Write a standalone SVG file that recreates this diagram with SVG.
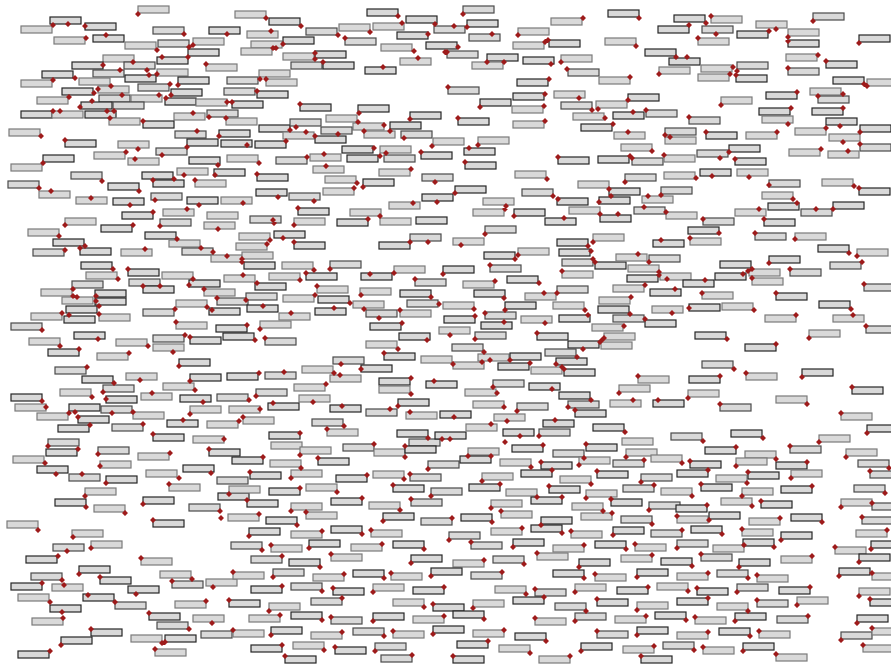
<svg xmlns="http://www.w3.org/2000/svg" width="891" height="665" viewBox="0 0 891 665">
<style>
#nodes rect{width:31px;height:7px;fill:#d9d9d9;stroke:#7a7a7a;stroke-width:1.2}
#nodes>g:nth-child(2n) rect{stroke:#262626}
#nodes>g:nth-child(5n) rect{stroke:#4a4a4a}
.dm{fill:#9e1b1b;stroke:none}
</style>
<rect x="0" y="0" style="width:891px;height:665px" fill="#ffffff"/>
<g id="nodes">
<g id="n1"><rect x="138" y="6"/></g>
<g id="n2"><rect x="50" y="17"/></g>
<g id="n3"><rect x="21" y="26"/></g>
<g id="n4"><rect x="85" y="23"/></g>
<g id="n5"><rect x="153" y="27"/></g>
<g id="n6"><rect x="209" y="27"/></g>
<g id="n7"><rect x="54" y="37"/></g>
<g id="n8"><rect x="93" y="35"/></g>
<g id="n9"><rect x="125" y="42"/></g>
<g id="n10"><rect x="158" y="40"/></g>
<g id="n11"><rect x="193" y="38"/></g>
<g id="n12"><rect x="188" y="49"/></g>
<g id="n13"><rect x="103" y="55"/></g>
<g id="n14"><rect x="72" y="62"/></g>
<g id="n15"><rect x="124" y="62"/></g>
<g id="n16"><rect x="157" y="57"/></g>
<g id="n17"><rect x="206" y="64"/></g>
<g id="n18"><rect x="42" y="71"/></g>
<g id="n19"><rect x="21" y="80"/></g>
<g id="n20"><rect x="93" y="70"/></g>
<g id="n21"><rect x="157" y="69"/></g>
<g id="n22"><rect x="125" y="75"/></g>
<g id="n23"><rect x="79" y="78"/></g>
<g id="n24"><rect x="178" y="77"/></g>
<g id="n25"><rect x="138" y="84"/></g>
<g id="n26"><rect x="62" y="88"/></g>
<g id="n27"><rect x="98" y="86"/></g>
<g id="n28"><rect x="171" y="89"/></g>
<g id="n29"><rect x="37" y="97"/></g>
<g id="n30"><rect x="99" y="95"/></g>
<g id="n31"><rect x="131" y="95"/></g>
<g id="n32"><rect x="165" y="98"/></g>
<g id="n33"><rect x="196" y="99"/></g>
<g id="n34"><rect x="81" y="102"/></g>
<g id="n35"><rect x="113" y="102"/></g>
<g id="n36"><rect x="21" y="111"/></g>
<g id="n37"><rect x="52" y="111"/></g>
<g id="n38"><rect x="85" y="111"/></g>
<g id="n39"><rect x="174" y="113"/></g>
<g id="n40"><rect x="207" y="110"/></g>
<g id="n41"><rect x="109" y="118"/></g>
<g id="n42"><rect x="143" y="121"/></g>
<g id="n43"><rect x="9" y="129"/></g>
<g id="n44"><rect x="65" y="140"/></g>
<g id="n45"><rect x="175" y="131"/></g>
<g id="n46"><rect x="219" y="130"/></g>
<g id="n47"><rect x="118" y="141"/></g>
<g id="n48"><rect x="187" y="139"/></g>
<g id="n49"><rect x="94" y="152"/></g>
<g id="n50"><rect x="156" y="148"/></g>
<g id="n51"><rect x="128" y="158"/></g>
<g id="n52"><rect x="43" y="155"/></g>
<g id="n53"><rect x="11" y="164"/></g>
<g id="n54"><rect x="189" y="157"/></g>
<g id="n55"><rect x="71" y="172"/></g>
<g id="n56"><rect x="142" y="172"/></g>
<g id="n57"><rect x="177" y="168"/></g>
<g id="n58"><rect x="153" y="180"/></g>
<g id="n59"><rect x="195" y="180"/></g>
<g id="n60"><rect x="8" y="181"/></g>
<g id="n61"><rect x="39" y="191"/></g>
<g id="n62"><rect x="108" y="183"/></g>
<g id="n63"><rect x="76" y="197"/></g>
<g id="n64"><rect x="113" y="198"/></g>
<g id="n65"><rect x="151" y="193"/></g>
<g id="n66"><rect x="187" y="197"/></g>
<g id="n67"><rect x="163" y="209"/></g>
<g id="n68"><rect x="122" y="212"/></g>
<g id="n69"><rect x="65" y="218"/></g>
<g id="n70"><rect x="160" y="219"/></g>
<g id="n71"><rect x="207" y="212"/></g>
<g id="n72"><rect x="214" y="169"/></g>
<g id="n73"><rect x="221" y="197"/></g>
<g id="n74"><rect x="221" y="140"/></g>
<g id="n75"><rect x="224" y="88"/></g>
<g id="n76"><rect x="232" y="101"/></g>
<g id="n77"><rect x="235" y="11"/></g>
<g id="n78"><rect x="269" y="18"/></g>
<g id="n79"><rect x="247" y="31"/></g>
<g id="n80"><rect x="306" y="28"/></g>
<g id="n81"><rect x="339" y="24"/></g>
<g id="n82"><rect x="367" y="9"/></g>
<g id="n83"><rect x="373" y="23"/></g>
<g id="n84"><rect x="406" y="16"/></g>
<g id="n85"><rect x="434" y="26"/></g>
<g id="n86"><rect x="397" y="32"/></g>
<g id="n87"><rect x="251" y="41"/></g>
<g id="n88"><rect x="283" y="37"/></g>
<g id="n89"><rect x="241" y="48"/></g>
<g id="n90"><rect x="345" y="38"/></g>
<g id="n91"><rect x="381" y="44"/></g>
<g id="n92"><rect x="426" y="42"/></g>
<g id="n93"><rect x="283" y="53"/></g>
<g id="n94"><rect x="315" y="51"/></g>
<g id="n95"><rect x="291" y="62"/></g>
<g id="n96"><rect x="323" y="62"/></g>
<g id="n97"><rect x="400" y="58"/></g>
<g id="n98"><rect x="365" y="67"/></g>
<g id="n99"><rect x="259" y="70"/></g>
<g id="n100"><rect x="227" y="77"/></g>
<g id="n101"><rect x="266" y="79"/></g>
<g id="n102"><rect x="257" y="91"/></g>
<g id="n103"><rect x="226" y="118"/></g>
<g id="n104"><rect x="259" y="125"/></g>
<g id="n105"><rect x="290" y="119"/></g>
<g id="n106"><rect x="300" y="104"/></g>
<g id="n107"><rect x="326" y="115"/></g>
<g id="n108"><rect x="358" y="105"/></g>
<g id="n109"><rect x="353" y="123"/></g>
<g id="n110"><rect x="321" y="127"/></g>
<g id="n111"><rect x="283" y="132"/></g>
<g id="n112"><rect x="315" y="136"/></g>
<g id="n113"><rect x="364" y="131"/></g>
<g id="n114"><rect x="390" y="122"/></g>
<g id="n115"><rect x="401" y="131"/></g>
<g id="n116"><rect x="410" y="112"/></g>
<g id="n117"><rect x="433" y="138"/></g>
<g id="n118"><rect x="255" y="141"/></g>
<g id="n119"><rect x="227" y="155"/></g>
<g id="n120"><rect x="276" y="157"/></g>
<g id="n121"><rect x="310" y="154"/></g>
<g id="n122"><rect x="342" y="146"/></g>
<g id="n123"><rect x="380" y="146"/></g>
<g id="n124"><rect x="347" y="155"/></g>
<g id="n125"><rect x="384" y="155"/></g>
<g id="n126"><rect x="421" y="152"/></g>
<g id="n127"><rect x="313" y="166"/></g>
<g id="n128"><rect x="257" y="174"/></g>
<g id="n129"><rect x="379" y="169"/></g>
<g id="n130"><rect x="422" y="174"/></g>
<g id="n131"><rect x="325" y="176"/></g>
<g id="n132"><rect x="363" y="179"/></g>
<g id="n133"><rect x="323" y="188"/></g>
<g id="n134"><rect x="256" y="189"/></g>
<g id="n135"><rect x="289" y="193"/></g>
<g id="n136"><rect x="422" y="194"/></g>
<g id="n137"><rect x="389" y="202"/></g>
<g id="n138"><rect x="298" y="208"/></g>
<g id="n139"><rect x="350" y="209"/></g>
<g id="n140"><rect x="250" y="216"/></g>
<g id="n141"><rect x="294" y="218"/></g>
<g id="n142"><rect x="337" y="219"/></g>
<g id="n143"><rect x="380" y="218"/></g>
<g id="n144"><rect x="416" y="217"/></g>
<g id="n145"><rect x="463" y="6"/></g>
<g id="n146"><rect x="608" y="10"/></g>
<g id="n147"><rect x="551" y="18"/></g>
<g id="n148"><rect x="467" y="20"/></g>
<g id="n149"><rect x="518" y="28"/></g>
<g id="n150"><rect x="469" y="34"/></g>
<g id="n151"><rect x="605" y="38"/></g>
<g id="n152"><rect x="658" y="26"/></g>
<g id="n153"><rect x="513" y="42"/></g>
<g id="n154"><rect x="549" y="40"/></g>
<g id="n155"><rect x="447" y="51"/></g>
<g id="n156"><rect x="487" y="54"/></g>
<g id="n157"><rect x="472" y="62"/></g>
<g id="n158"><rect x="523" y="57"/></g>
<g id="n159"><rect x="561" y="55"/></g>
<g id="n160"><rect x="568" y="69"/></g>
<g id="n161"><rect x="599" y="77"/></g>
<g id="n162"><rect x="645" y="49"/></g>
<g id="n163"><rect x="659" y="67"/></g>
<g id="n164"><rect x="517" y="79"/></g>
<g id="n165"><rect x="448" y="87"/></g>
<g id="n166"><rect x="513" y="93"/></g>
<g id="n167"><rect x="554" y="91"/></g>
<g id="n168"><rect x="480" y="99"/></g>
<g id="n169"><rect x="512" y="106"/></g>
<g id="n170"><rect x="561" y="102"/></g>
<g id="n171"><rect x="596" y="101"/></g>
<g id="n172"><rect x="628" y="94"/></g>
<g id="n173"><rect x="573" y="113"/></g>
<g id="n174"><rect x="613" y="112"/></g>
<g id="n175"><rect x="646" y="110"/></g>
<g id="n176"><rect x="458" y="118"/></g>
<g id="n177"><rect x="513" y="121"/></g>
<g id="n178"><rect x="581" y="124"/></g>
<g id="n179"><rect x="614" y="132"/></g>
<g id="n180"><rect x="665" y="128"/></g>
<g id="n181"><rect x="478" y="137"/></g>
<g id="n182"><rect x="464" y="148"/></g>
<g id="n183"><rect x="621" y="144"/></g>
<g id="n184"><rect x="598" y="156"/></g>
<g id="n185"><rect x="632" y="158"/></g>
<g id="n186"><rect x="558" y="157"/></g>
<g id="n187"><rect x="664" y="155"/></g>
<g id="n188"><rect x="465" y="162"/></g>
<g id="n189"><rect x="515" y="171"/></g>
<g id="n190"><rect x="625" y="174"/></g>
<g id="n191"><rect x="664" y="172"/></g>
<g id="n192"><rect x="455" y="186"/></g>
<g id="n193"><rect x="578" y="181"/></g>
<g id="n194"><rect x="609" y="188"/></g>
<g id="n195"><rect x="522" y="189"/></g>
<g id="n196"><rect x="557" y="198"/></g>
<g id="n197"><rect x="483" y="198"/></g>
<g id="n198"><rect x="599" y="197"/></g>
<g id="n199"><rect x="642" y="196"/></g>
<g id="n200"><rect x="661" y="187"/></g>
<g id="n201"><rect x="473" y="209"/></g>
<g id="n202"><rect x="514" y="209"/></g>
<g id="n203"><rect x="569" y="207"/></g>
<g id="n204"><rect x="600" y="215"/></g>
<g id="n205"><rect x="634" y="207"/></g>
<g id="n206"><rect x="545" y="218"/></g>
<g id="n207"><rect x="665" y="137"/></g>
<g id="n208"><rect x="674" y="15"/></g>
<g id="n209"><rect x="711" y="16"/></g>
<g id="n210"><rect x="702" y="26"/></g>
<g id="n211"><rect x="756" y="21"/></g>
<g id="n212"><rect x="737" y="31"/></g>
<g id="n213"><rect x="788" y="29"/></g>
<g id="n214"><rect x="788" y="40"/></g>
<g id="n215"><rect x="813" y="13"/></g>
<g id="n216"><rect x="859" y="35"/></g>
<g id="n217"><rect x="698" y="38"/></g>
<g id="n218"><rect x="669" y="58"/></g>
<g id="n219"><rect x="701" y="65"/></g>
<g id="n220"><rect x="737" y="62"/></g>
<g id="n221"><rect x="698" y="74"/></g>
<g id="n222"><rect x="736" y="75"/></g>
<g id="n223"><rect x="786" y="54"/></g>
<g id="n224"><rect x="826" y="61"/></g>
<g id="n225"><rect x="788" y="68"/></g>
<g id="n226"><rect x="833" y="77"/></g>
<g id="n227"><rect x="867" y="79"/></g>
<g id="n228"><rect x="766" y="92"/></g>
<g id="n229"><rect x="810" y="88"/></g>
<g id="n230"><rect x="818" y="96"/></g>
<g id="n231"><rect x="721" y="97"/></g>
<g id="n232"><rect x="759" y="108"/></g>
<g id="n233"><rect x="762" y="116"/></g>
<g id="n234"><rect x="812" y="108"/></g>
<g id="n235"><rect x="689" y="117"/></g>
<g id="n236"><rect x="826" y="118"/></g>
<g id="n237"><rect x="795" y="128"/></g>
<g id="n238"><rect x="860" y="125"/></g>
<g id="n239"><rect x="829" y="134"/></g>
<g id="n240"><rect x="860" y="144"/></g>
<g id="n241"><rect x="828" y="151"/></g>
<g id="n242"><rect x="706" y="132"/></g>
<g id="n243"><rect x="746" y="132"/></g>
<g id="n244"><rect x="729" y="145"/></g>
<g id="n245"><rect x="697" y="150"/></g>
<g id="n246"><rect x="735" y="158"/></g>
<g id="n247"><rect x="789" y="149"/></g>
<g id="n248"><rect x="700" y="169"/></g>
<g id="n249"><rect x="737" y="169"/></g>
<g id="n250"><rect x="769" y="180"/></g>
<g id="n251"><rect x="822" y="179"/></g>
<g id="n252"><rect x="859" y="188"/></g>
<g id="n253"><rect x="762" y="192"/></g>
<g id="n254"><rect x="768" y="203"/></g>
<g id="n255"><rect x="801" y="209"/></g>
<g id="n256"><rect x="833" y="202"/></g>
<g id="n257"><rect x="735" y="209"/></g>
<g id="n258"><rect x="764" y="219"/></g>
<g id="n259"><rect x="666" y="212"/></g>
<g id="n260"><rect x="703" y="218"/></g>
<g id="n261"><rect x="28" y="229"/></g>
<g id="n262"><rect x="101" y="225"/></g>
<g id="n263"><rect x="204" y="222"/></g>
<g id="n264"><rect x="53" y="239"/></g>
<g id="n265"><rect x="33" y="249"/></g>
<g id="n266"><rect x="80" y="248"/></g>
<g id="n267"><rect x="121" y="249"/></g>
<g id="n268"><rect x="145" y="232"/></g>
<g id="n269"><rect x="169" y="240"/></g>
<g id="n270"><rect x="182" y="248"/></g>
<g id="n271"><rect x="211" y="255"/></g>
<g id="n272"><rect x="81" y="262"/></g>
<g id="n273"><rect x="86" y="272"/></g>
<g id="n274"><rect x="128" y="269"/></g>
<g id="n275"><rect x="129" y="279"/></g>
<g id="n276"><rect x="143" y="286"/></g>
<g id="n277"><rect x="162" y="272"/></g>
<g id="n278"><rect x="189" y="280"/></g>
<g id="n279"><rect x="204" y="289"/></g>
<g id="n280"><rect x="72" y="281"/></g>
<g id="n281"><rect x="41" y="289"/></g>
<g id="n282"><rect x="95" y="290"/></g>
<g id="n283"><rect x="62" y="297"/></g>
<g id="n284"><rect x="95" y="298"/></g>
<g id="n285"><rect x="217" y="298"/></g>
<g id="n286"><rect x="66" y="306"/></g>
<g id="n287"><rect x="31" y="313"/></g>
<g id="n288"><rect x="64" y="316"/></g>
<g id="n289"><rect x="99" y="314"/></g>
<g id="n290"><rect x="143" y="309"/></g>
<g id="n291"><rect x="176" y="300"/></g>
<g id="n292"><rect x="209" y="308"/></g>
<g id="n293"><rect x="176" y="322"/></g>
<g id="n294"><rect x="216" y="325"/></g>
<g id="n295"><rect x="11" y="323"/></g>
<g id="n296"><rect x="74" y="332"/></g>
<g id="n297"><rect x="29" y="338"/></g>
<g id="n298"><rect x="48" y="349"/></g>
<g id="n299"><rect x="116" y="339"/></g>
<g id="n300"><rect x="153" y="335"/></g>
<g id="n301"><rect x="153" y="344"/></g>
<g id="n302"><rect x="190" y="337"/></g>
<g id="n303"><rect x="97" y="353"/></g>
<g id="n304"><rect x="179" y="359"/></g>
<g id="n305"><rect x="55" y="367"/></g>
<g id="n306"><rect x="82" y="376"/></g>
<g id="n307"><rect x="126" y="373"/></g>
<g id="n308"><rect x="190" y="374"/></g>
<g id="n309"><rect x="163" y="383"/></g>
<g id="n310"><rect x="103" y="385"/></g>
<g id="n311"><rect x="60" y="389"/></g>
<g id="n312"><rect x="11" y="394"/></g>
<g id="n313"><rect x="141" y="393"/></g>
<g id="n314"><rect x="180" y="395"/></g>
<g id="n315"><rect x="217" y="394"/></g>
<g id="n316"><rect x="106" y="396"/></g>
<g id="n317"><rect x="15" y="404"/></g>
<g id="n318"><rect x="69" y="404"/></g>
<g id="n319"><rect x="37" y="413"/></g>
<g id="n320"><rect x="101" y="406"/></g>
<g id="n321"><rect x="133" y="412"/></g>
<g id="n322"><rect x="78" y="416"/></g>
<g id="n323"><rect x="190" y="406"/></g>
<g id="n324"><rect x="58" y="425"/></g>
<g id="n325"><rect x="112" y="424"/></g>
<g id="n326"><rect x="167" y="420"/></g>
<g id="n327"><rect x="207" y="421"/></g>
<g id="n328"><rect x="153" y="434"/></g>
<g id="n329"><rect x="193" y="436"/></g>
<g id="n330"><rect x="48" y="439"/></g>
<g id="n331"><rect x="239" y="233"/></g>
<g id="n332"><rect x="274" y="231"/></g>
<g id="n333"><rect x="236" y="243"/></g>
<g id="n334"><rect x="294" y="242"/></g>
<g id="n335"><rect x="410" y="234"/></g>
<g id="n336"><rect x="379" y="242"/></g>
<g id="n337"><rect x="242" y="252"/></g>
<g id="n338"><rect x="244" y="262"/></g>
<g id="n339"><rect x="282" y="262"/></g>
<g id="n340"><rect x="330" y="261"/></g>
<g id="n341"><rect x="269" y="273"/></g>
<g id="n342"><rect x="306" y="273"/></g>
<g id="n343"><rect x="394" y="266"/></g>
<g id="n344"><rect x="361" y="273"/></g>
<g id="n345"><rect x="415" y="279"/></g>
<g id="n346"><rect x="443" y="266"/></g>
<g id="n347"><rect x="224" y="275"/></g>
<g id="n348"><rect x="255" y="283"/></g>
<g id="n349"><rect x="317" y="286"/></g>
<g id="n350"><rect x="246" y="293"/></g>
<g id="n351"><rect x="283" y="295"/></g>
<g id="n352"><rect x="318" y="296"/></g>
<g id="n353"><rect x="360" y="288"/></g>
<g id="n354"><rect x="400" y="290"/></g>
<g id="n355"><rect x="407" y="300"/></g>
<g id="n356"><rect x="247" y="305"/></g>
<g id="n357"><rect x="279" y="313"/></g>
<g id="n358"><rect x="315" y="308"/></g>
<g id="n359"><rect x="353" y="301"/></g>
<g id="n360"><rect x="366" y="310"/></g>
<g id="n361"><rect x="400" y="310"/></g>
<g id="n362"><rect x="370" y="323"/></g>
<g id="n363"><rect x="260" y="321"/></g>
<g id="n364"><rect x="223" y="333"/></g>
<g id="n365"><rect x="265" y="338"/></g>
<g id="n366"><rect x="399" y="333"/></g>
<g id="n367"><rect x="366" y="341"/></g>
<g id="n368"><rect x="384" y="353"/></g>
<g id="n369"><rect x="421" y="356"/></g>
<g id="n370"><rect x="333" y="357"/></g>
<g id="n371"><rect x="302" y="366"/></g>
<g id="n372"><rect x="361" y="365"/></g>
<g id="n373"><rect x="330" y="375"/></g>
<g id="n374"><rect x="227" y="373"/></g>
<g id="n375"><rect x="265" y="372"/></g>
<g id="n376"><rect x="379" y="378"/></g>
<g id="n377"><rect x="379" y="386"/></g>
<g id="n378"><rect x="426" y="381"/></g>
<g id="n379"><rect x="294" y="384"/></g>
<g id="n380"><rect x="256" y="389"/></g>
<g id="n381"><rect x="299" y="395"/></g>
<g id="n382"><rect x="268" y="403"/></g>
<g id="n383"><rect x="229" y="406"/></g>
<g id="n384"><rect x="330" y="405"/></g>
<g id="n385"><rect x="366" y="409"/></g>
<g id="n386"><rect x="398" y="399"/></g>
<g id="n387"><rect x="406" y="412"/></g>
<g id="n388"><rect x="440" y="411"/></g>
<g id="n389"><rect x="243" y="417"/></g>
<g id="n390"><rect x="312" y="419"/></g>
<g id="n391"><rect x="327" y="429"/></g>
<g id="n392"><rect x="269" y="432"/></g>
<g id="n393"><rect x="271" y="442"/></g>
<g id="n394"><rect x="397" y="430"/></g>
<g id="n395"><rect x="409" y="439"/></g>
<g id="n396"><rect x="435" y="432"/></g>
<g id="n397"><rect x="443" y="302"/></g>
<g id="n398"><rect x="444" y="316"/></g>
<g id="n399"><rect x="439" y="327"/></g>
<g id="n400"><rect x="485" y="226"/></g>
<g id="n401"><rect x="453" y="238"/></g>
<g id="n402"><rect x="557" y="239"/></g>
<g id="n403"><rect x="593" y="234"/></g>
<g id="n404"><rect x="559" y="249"/></g>
<g id="n405"><rect x="562" y="259"/></g>
<g id="n406"><rect x="595" y="262"/></g>
<g id="n407"><rect x="562" y="271"/></g>
<g id="n408"><rect x="653" y="240"/></g>
<g id="n409"><rect x="616" y="254"/></g>
<g id="n410"><rect x="649" y="255"/></g>
<g id="n411"><rect x="628" y="265"/></g>
<g id="n412"><rect x="627" y="275"/></g>
<g id="n413"><rect x="518" y="248"/></g>
<g id="n414"><rect x="484" y="252"/></g>
<g id="n415"><rect x="490" y="265"/></g>
<g id="n416"><rect x="507" y="276"/></g>
<g id="n417"><rect x="463" y="281"/></g>
<g id="n418"><rect x="474" y="290"/></g>
<g id="n419"><rect x="525" y="293"/></g>
<g id="n420"><rect x="557" y="286"/></g>
<g id="n421"><rect x="613" y="285"/></g>
<g id="n422"><rect x="650" y="289"/></g>
<g id="n423"><rect x="599" y="297"/></g>
<g id="n424"><rect x="598" y="306"/></g>
<g id="n425"><rect x="613" y="315"/></g>
<g id="n426"><rect x="645" y="320"/></g>
<g id="n427"><rect x="652" y="306"/></g>
<g id="n428"><rect x="505" y="302"/></g>
<g id="n429"><rect x="553" y="302"/></g>
<g id="n430"><rect x="485" y="312"/></g>
<g id="n431"><rect x="521" y="316"/></g>
<g id="n432"><rect x="559" y="315"/></g>
<g id="n433"><rect x="592" y="324"/></g>
<g id="n434"><rect x="481" y="322"/></g>
<g id="n435"><rect x="475" y="332"/></g>
<g id="n436"><rect x="537" y="333"/></g>
<g id="n437"><rect x="604" y="333"/></g>
<g id="n438"><rect x="568" y="341"/></g>
<g id="n439"><rect x="601" y="342"/></g>
<g id="n440"><rect x="452" y="344"/></g>
<g id="n441"><rect x="478" y="354"/></g>
<g id="n442"><rect x="510" y="353"/></g>
<g id="n443"><rect x="453" y="362"/></g>
<g id="n444"><rect x="498" y="363"/></g>
<g id="n445"><rect x="545" y="349"/></g>
<g id="n446"><rect x="556" y="358"/></g>
<g id="n447"><rect x="531" y="367"/></g>
<g id="n448"><rect x="564" y="369"/></g>
<g id="n449"><rect x="638" y="376"/></g>
<g id="n450"><rect x="493" y="380"/></g>
<g id="n451"><rect x="465" y="389"/></g>
<g id="n452"><rect x="529" y="383"/></g>
<g id="n453"><rect x="619" y="385"/></g>
<g id="n454"><rect x="559" y="392"/></g>
<g id="n455"><rect x="568" y="401"/></g>
<g id="n456"><rect x="575" y="410"/></g>
<g id="n457"><rect x="610" y="400"/></g>
<g id="n458"><rect x="653" y="400"/></g>
<g id="n459"><rect x="473" y="401"/></g>
<g id="n460"><rect x="517" y="403"/></g>
<g id="n461"><rect x="494" y="414"/></g>
<g id="n462"><rect x="543" y="420"/></g>
<g id="n463"><rect x="466" y="424"/></g>
<g id="n464"><rect x="503" y="429"/></g>
<g id="n465"><rect x="539" y="429"/></g>
<g id="n466"><rect x="593" y="424"/></g>
<g id="n467"><rect x="622" y="438"/></g>
<g id="n468"><rect x="688" y="227"/></g>
<g id="n469"><rect x="690" y="238"/></g>
<g id="n470"><rect x="755" y="233"/></g>
<g id="n471"><rect x="795" y="233"/></g>
<g id="n472"><rect x="818" y="245"/></g>
<g id="n473"><rect x="857" y="249"/></g>
<g id="n474"><rect x="769" y="256"/></g>
<g id="n475"><rect x="830" y="262"/></g>
<g id="n476"><rect x="720" y="261"/></g>
<g id="n477"><rect x="749" y="269"/></g>
<g id="n478"><rect x="715" y="273"/></g>
<g id="n479"><rect x="752" y="278"/></g>
<g id="n480"><rect x="790" y="269"/></g>
<g id="n481"><rect x="660" y="273"/></g>
<g id="n482"><rect x="683" y="280"/></g>
<g id="n483"><rect x="702" y="292"/></g>
<g id="n484"><rect x="776" y="293"/></g>
<g id="n485"><rect x="864" y="284"/></g>
<g id="n486"><rect x="689" y="304"/></g>
<g id="n487"><rect x="722" y="303"/></g>
<g id="n488"><rect x="819" y="301"/></g>
<g id="n489"><rect x="833" y="315"/></g>
<g id="n490"><rect x="866" y="326"/></g>
<g id="n491"><rect x="765" y="315"/></g>
<g id="n492"><rect x="695" y="332"/></g>
<g id="n493"><rect x="809" y="330"/></g>
<g id="n494"><rect x="745" y="344"/></g>
<g id="n495"><rect x="702" y="361"/></g>
<g id="n496"><rect x="689" y="376"/></g>
<g id="n497"><rect x="746" y="373"/></g>
<g id="n498"><rect x="802" y="369"/></g>
<g id="n499"><rect x="688" y="390"/></g>
<g id="n500"><rect x="720" y="404"/></g>
<g id="n501"><rect x="776" y="396"/></g>
<g id="n502"><rect x="852" y="387"/></g>
<g id="n503"><rect x="841" y="413"/></g>
<g id="n504"><rect x="867" y="425"/></g>
<g id="n505"><rect x="671" y="433"/></g>
<g id="n506"><rect x="731" y="430"/></g>
<g id="n507"><rect x="819" y="435"/></g>
<g id="n508"><rect x="46" y="449"/></g>
<g id="n509"><rect x="13" y="456"/></g>
<g id="n510"><rect x="98" y="447"/></g>
<g id="n511"><rect x="138" y="453"/></g>
<g id="n512"><rect x="209" y="449"/></g>
<g id="n513"><rect x="100" y="461"/></g>
<g id="n514"><rect x="37" y="466"/></g>
<g id="n515"><rect x="69" y="474"/></g>
<g id="n516"><rect x="106" y="476"/></g>
<g id="n517"><rect x="146" y="470"/></g>
<g id="n518"><rect x="183" y="465"/></g>
<g id="n519"><rect x="169" y="484"/></g>
<g id="n520"><rect x="217" y="477"/></g>
<g id="n521"><rect x="85" y="488"/></g>
<g id="n522"><rect x="55" y="499"/></g>
<g id="n523"><rect x="94" y="505"/></g>
<g id="n524"><rect x="143" y="497"/></g>
<g id="n525"><rect x="189" y="504"/></g>
<g id="n526"><rect x="218" y="493"/></g>
<g id="n527"><rect x="7" y="521"/></g>
<g id="n528"><rect x="153" y="520"/></g>
<g id="n529"><rect x="72" y="530"/></g>
<g id="n530"><rect x="53" y="544"/></g>
<g id="n531"><rect x="91" y="541"/></g>
<g id="n532"><rect x="26" y="556"/></g>
<g id="n533"><rect x="141" y="558"/></g>
<g id="n534"><rect x="79" y="566"/></g>
<g id="n535"><rect x="31" y="573"/></g>
<g id="n536"><rect x="11" y="583"/></g>
<g id="n537"><rect x="52" y="584"/></g>
<g id="n538"><rect x="100" y="577"/></g>
<g id="n539"><rect x="160" y="571"/></g>
<g id="n540"><rect x="172" y="581"/></g>
<g id="n541"><rect x="206" y="579"/></g>
<g id="n542"><rect x="128" y="586"/></g>
<g id="n543"><rect x="18" y="594"/></g>
<g id="n544"><rect x="83" y="594"/></g>
<g id="n545"><rect x="115" y="602"/></g>
<g id="n546"><rect x="50" y="605"/></g>
<g id="n547"><rect x="175" y="601"/></g>
<g id="n548"><rect x="149" y="613"/></g>
<g id="n549"><rect x="32" y="618"/></g>
<g id="n550"><rect x="157" y="622"/></g>
<g id="n551"><rect x="193" y="615"/></g>
<g id="n552"><rect x="91" y="629"/></g>
<g id="n553"><rect x="131" y="635"/></g>
<g id="n554"><rect x="165" y="635"/></g>
<g id="n555"><rect x="201" y="631"/></g>
<g id="n556"><rect x="61" y="637"/></g>
<g id="n557"><rect x="155" y="649"/></g>
<g id="n558"><rect x="18" y="651"/></g>
<g id="n559"><rect x="300" y="447"/></g>
<g id="n560"><rect x="343" y="444"/></g>
<g id="n561"><rect x="374" y="449"/></g>
<g id="n562"><rect x="405" y="446"/></g>
<g id="n563"><rect x="468" y="448"/></g>
<g id="n564"><rect x="512" y="445"/></g>
<g id="n565"><rect x="553" y="450"/></g>
<g id="n566"><rect x="586" y="444"/></g>
<g id="n567"><rect x="626" y="449"/></g>
<g id="n568"><rect x="705" y="447"/></g>
<g id="n569"><rect x="745" y="451"/></g>
<g id="n570"><rect x="790" y="446"/></g>
<g id="n571"><rect x="846" y="449"/></g>
<g id="n572"><rect x="232" y="457"/></g>
<g id="n573"><rect x="270" y="460"/></g>
<g id="n574"><rect x="318" y="458"/></g>
<g id="n575"><rect x="428" y="461"/></g>
<g id="n576"><rect x="460" y="456"/></g>
<g id="n577"><rect x="500" y="459"/></g>
<g id="n578"><rect x="541" y="462"/></g>
<g id="n579"><rect x="579" y="457"/></g>
<g id="n580"><rect x="613" y="460"/></g>
<g id="n581"><rect x="651" y="455"/></g>
<g id="n582"><rect x="690" y="461"/></g>
<g id="n583"><rect x="736" y="458"/></g>
<g id="n584"><rect x="776" y="462"/></g>
<g id="n585"><rect x="858" y="460"/></g>
<g id="n586"><rect x="250" y="472"/></g>
<g id="n587"><rect x="291" y="470"/></g>
<g id="n588"><rect x="336" y="475"/></g>
<g id="n589"><rect x="373" y="471"/></g>
<g id="n590"><rect x="410" y="474"/></g>
<g id="n591"><rect x="482" y="473"/></g>
<g id="n592"><rect x="521" y="470"/></g>
<g id="n593"><rect x="560" y="476"/></g>
<g id="n594"><rect x="597" y="471"/></g>
<g id="n595"><rect x="641" y="474"/></g>
<g id="n596"><rect x="677" y="470"/></g>
<g id="n597"><rect x="716" y="475"/></g>
<g id="n598"><rect x="748" y="472"/></g>
<g id="n599"><rect x="791" y="470"/></g>
<g id="n600"><rect x="870" y="471"/></g>
<g id="n601"><rect x="229" y="486"/></g>
<g id="n602"><rect x="269" y="488"/></g>
<g id="n603"><rect x="306" y="484"/></g>
<g id="n604"><rect x="393" y="485"/></g>
<g id="n605"><rect x="431" y="488"/></g>
<g id="n606"><rect x="469" y="484"/></g>
<g id="n607"><rect x="506" y="489"/></g>
<g id="n608"><rect x="549" y="486"/></g>
<g id="n609"><rect x="586" y="490"/></g>
<g id="n610"><rect x="623" y="485"/></g>
<g id="n611"><rect x="661" y="488"/></g>
<g id="n612"><rect x="701" y="484"/></g>
<g id="n613"><rect x="742" y="488"/></g>
<g id="n614"><rect x="781" y="486"/></g>
<g id="n615"><rect x="854" y="485"/></g>
<g id="n616"><rect x="247" y="500"/></g>
<g id="n617"><rect x="291" y="503"/></g>
<g id="n618"><rect x="331" y="498"/></g>
<g id="n619"><rect x="369" y="502"/></g>
<g id="n620"><rect x="411" y="499"/></g>
<g id="n621"><rect x="491" y="500"/></g>
<g id="n622"><rect x="531" y="497"/></g>
<g id="n623"><rect x="572" y="503"/></g>
<g id="n624"><rect x="611" y="499"/></g>
<g id="n625"><rect x="649" y="502"/></g>
<g id="n626"><rect x="676" y="505"/></g>
<g id="n627"><rect x="721" y="498"/></g>
<g id="n628"><rect x="761" y="501"/></g>
<g id="n629"><rect x="841" y="499"/></g>
<g id="n630"><rect x="872" y="503"/></g>
<g id="n631"><rect x="228" y="514"/></g>
<g id="n632"><rect x="266" y="517"/></g>
<g id="n633"><rect x="306" y="512"/></g>
<g id="n634"><rect x="383" y="513"/></g>
<g id="n635"><rect x="421" y="518"/></g>
<g id="n636"><rect x="461" y="514"/></g>
<g id="n637"><rect x="501" y="511"/></g>
<g id="n638"><rect x="541" y="517"/></g>
<g id="n639"><rect x="581" y="513"/></g>
<g id="n640"><rect x="621" y="516"/></g>
<g id="n641"><rect x="677" y="516"/></g>
<g id="n642"><rect x="709" y="512"/></g>
<g id="n643"><rect x="749" y="518"/></g>
<g id="n644"><rect x="791" y="514"/></g>
<g id="n645"><rect x="862" y="517"/></g>
<g id="n646"><rect x="249" y="528"/></g>
<g id="n647"><rect x="291" y="531"/></g>
<g id="n648"><rect x="331" y="526"/></g>
<g id="n649"><rect x="371" y="530"/></g>
<g id="n650"><rect x="449" y="532"/></g>
<g id="n651"><rect x="491" y="528"/></g>
<g id="n652"><rect x="531" y="525"/></g>
<g id="n653"><rect x="571" y="531"/></g>
<g id="n654"><rect x="613" y="527"/></g>
<g id="n655"><rect x="651" y="530"/></g>
<g id="n656"><rect x="691" y="526"/></g>
<g id="n657"><rect x="742" y="529"/></g>
<g id="n658"><rect x="781" y="532"/></g>
<g id="n659"><rect x="856" y="530"/></g>
<g id="n660"><rect x="231" y="542"/></g>
<g id="n661"><rect x="271" y="545"/></g>
<g id="n662"><rect x="309" y="540"/></g>
<g id="n663"><rect x="351" y="544"/></g>
<g id="n664"><rect x="393" y="541"/></g>
<g id="n665"><rect x="471" y="542"/></g>
<g id="n666"><rect x="513" y="539"/></g>
<g id="n667"><rect x="553" y="545"/></g>
<g id="n668"><rect x="595" y="541"/></g>
<g id="n669"><rect x="635" y="544"/></g>
<g id="n670"><rect x="677" y="540"/></g>
<g id="n671"><rect x="713" y="545"/></g>
<g id="n672"><rect x="743" y="539"/></g>
<g id="n673"><rect x="835" y="547"/></g>
<g id="n674"><rect x="871" y="541"/></g>
<g id="n675"><rect x="251" y="556"/></g>
<g id="n676"><rect x="289" y="559"/></g>
<g id="n677"><rect x="331" y="554"/></g>
<g id="n678"><rect x="411" y="555"/></g>
<g id="n679"><rect x="453" y="560"/></g>
<g id="n680"><rect x="493" y="556"/></g>
<g id="n681"><rect x="537" y="553"/></g>
<g id="n682"><rect x="579" y="559"/></g>
<g id="n683"><rect x="621" y="555"/></g>
<g id="n684"><rect x="661" y="558"/></g>
<g id="n685"><rect x="701" y="554"/></g>
<g id="n686"><rect x="739" y="559"/></g>
<g id="n687"><rect x="781" y="556"/></g>
<g id="n688"><rect x="859" y="554"/></g>
<g id="n689"><rect x="233" y="572"/></g>
<g id="n690"><rect x="273" y="569"/></g>
<g id="n691"><rect x="313" y="574"/></g>
<g id="n692"><rect x="353" y="570"/></g>
<g id="n693"><rect x="391" y="573"/></g>
<g id="n694"><rect x="431" y="568"/></g>
<g id="n695"><rect x="471" y="572"/></g>
<g id="n696"><rect x="553" y="570"/></g>
<g id="n697"><rect x="595" y="574"/></g>
<g id="n698"><rect x="637" y="569"/></g>
<g id="n699"><rect x="677" y="573"/></g>
<g id="n700"><rect x="717" y="570"/></g>
<g id="n701"><rect x="757" y="575"/></g>
<g id="n702"><rect x="839" y="568"/></g>
<g id="n703"><rect x="872" y="573"/></g>
<g id="n704"><rect x="251" y="586"/></g>
<g id="n705"><rect x="291" y="583"/></g>
<g id="n706"><rect x="333" y="588"/></g>
<g id="n707"><rect x="373" y="584"/></g>
<g id="n708"><rect x="413" y="587"/></g>
<g id="n709"><rect x="495" y="586"/></g>
<g id="n710"><rect x="535" y="589"/></g>
<g id="n711"><rect x="575" y="584"/></g>
<g id="n712"><rect x="617" y="587"/></g>
<g id="n713"><rect x="657" y="583"/></g>
<g id="n714"><rect x="697" y="588"/></g>
<g id="n715"><rect x="737" y="584"/></g>
<g id="n716"><rect x="779" y="587"/></g>
<g id="n717"><rect x="859" y="588"/></g>
<g id="n718"><rect x="229" y="600"/></g>
<g id="n719"><rect x="269" y="603"/></g>
<g id="n720"><rect x="311" y="598"/></g>
<g id="n721"><rect x="393" y="599"/></g>
<g id="n722"><rect x="433" y="604"/></g>
<g id="n723"><rect x="473" y="600"/></g>
<g id="n724"><rect x="513" y="597"/></g>
<g id="n725"><rect x="555" y="603"/></g>
<g id="n726"><rect x="597" y="599"/></g>
<g id="n727"><rect x="637" y="602"/></g>
<g id="n728"><rect x="677" y="598"/></g>
<g id="n729"><rect x="717" y="603"/></g>
<g id="n730"><rect x="757" y="600"/></g>
<g id="n731"><rect x="797" y="597"/></g>
<g id="n732"><rect x="870" y="599"/></g>
<g id="n733"><rect x="249" y="615"/></g>
<g id="n734"><rect x="291" y="612"/></g>
<g id="n735"><rect x="331" y="617"/></g>
<g id="n736"><rect x="373" y="613"/></g>
<g id="n737"><rect x="413" y="616"/></g>
<g id="n738"><rect x="453" y="611"/></g>
<g id="n739"><rect x="535" y="618"/></g>
<g id="n740"><rect x="575" y="613"/></g>
<g id="n741"><rect x="615" y="616"/></g>
<g id="n742"><rect x="655" y="612"/></g>
<g id="n743"><rect x="695" y="617"/></g>
<g id="n744"><rect x="735" y="613"/></g>
<g id="n745"><rect x="777" y="616"/></g>
<g id="n746"><rect x="857" y="615"/></g>
<g id="n747"><rect x="233" y="630"/></g>
<g id="n748"><rect x="271" y="627"/></g>
<g id="n749"><rect x="311" y="632"/></g>
<g id="n750"><rect x="353" y="628"/></g>
<g id="n751"><rect x="393" y="631"/></g>
<g id="n752"><rect x="433" y="626"/></g>
<g id="n753"><rect x="473" y="630"/></g>
<g id="n754"><rect x="515" y="633"/></g>
<g id="n755"><rect x="597" y="631"/></g>
<g id="n756"><rect x="637" y="627"/></g>
<g id="n757"><rect x="677" y="632"/></g>
<g id="n758"><rect x="719" y="628"/></g>
<g id="n759"><rect x="759" y="631"/></g>
<g id="n760"><rect x="841" y="632"/></g>
<g id="n761"><rect x="872" y="628"/></g>
<g id="n762"><rect x="251" y="645"/></g>
<g id="n763"><rect x="293" y="642"/></g>
<g id="n764"><rect x="335" y="647"/></g>
<g id="n765"><rect x="375" y="643"/></g>
<g id="n766"><rect x="457" y="641"/></g>
<g id="n767"><rect x="499" y="645"/></g>
<g id="n768"><rect x="581" y="643"/></g>
<g id="n769"><rect x="623" y="646"/></g>
<g id="n770"><rect x="663" y="642"/></g>
<g id="n771"><rect x="703" y="647"/></g>
<g id="n772"><rect x="743" y="643"/></g>
<g id="n773"><rect x="863" y="645"/></g>
<g id="n774"><rect x="285" y="656"/></g>
<g id="n775"><rect x="381" y="655"/></g>
<g id="n776"><rect x="453" y="656"/></g>
<g id="n777"><rect x="539" y="656"/></g>
<g id="n778"><rect x="641" y="656"/></g>
<g id="n779"><rect x="776" y="654"/></g>
</g>
<g id="connectors">
<path class="dm" d="M138 14m0-3l3 3-3 3-3-3zM53 25m0-3l3 3-3 3-3-3zM68 24m0-3l3 3-3 3-3-3zM85 26m0-3l3 3-3 3-3-3zM184 34m0-3l3 3-3 3-3-3zM86 38m0-3l3 3-3 3-3-3zM106 35m0-3l3 3-3 3-3-3zM157 50m0-3l3 3-3 3-3-3zM189 47m0-3l3 3-3 3-3-3zM193 45m0-3l3 3-3 3-3-3zM188 57m0-3l3 3-3 3-3-3zM133 62m0-3l3 3-3 3-3-3zM103 65m0-3l3 3-3 3-3-3zM162 57m0-3l3 3-3 3-3-3zM206 64m0-3l3 3-3 3-3-3zM75 78m0-3l3 3-3 3-3-3zM53 80m0-3l3 3-3 3-3-3zM120 70m0-3l3 3-3 3-3-3zM147 70m0-3l3 3-3 3-3-3zM157 74m0-3l3 3-3 3-3-3zM149 75m0-3l3 3-3 3-3-3zM111 86m0-3l3 3-3 3-3-3zM178 85m0-3l3 3-3 3-3-3zM170 84m0-3l3 3-3 3-3-3zM94 93m0-3l3 3-3 3-3-3zM98 89m0-3l3 3-3 3-3-3zM171 95m0-3l3 3-3 3-3-3zM69 97m0-3l3 3-3 3-3-3zM122 95m0-3l3 3-3 3-3-3zM159 95m0-3l3 3-3 3-3-3zM166 98m0-3l3 3-3 3-3-3zM80 107m0-3l3 3-3 3-3-3zM92 101m0-3l3 3-3 3-3-3zM53 111m0-3l3 3-3 3-3-3zM60 111m0-3l3 3-3 3-3-3zM107 111m0-3l3 3-3 3-3-3zM114 111m0-3l3 3-3 3-3-3zM193 113m0-3l3 3-3 3-3-3zM209 117m0-3l3 3-3 3-3-3zM110 118m0-3l3 3-3 3-3-3zM143 121m0-3l3 3-3 3-3-3zM41 136m0-3l3 3-3 3-3-3zM65 140m0-3l3 3-3 3-3-3zM197 131m0-3l3 3-3 3-3-3zM219 136m0-3l3 3-3 3-3-3zM138 149m0-3l3 3-3 3-3-3zM187 147m0-3l3 3-3 3-3-3zM126 152m0-3l3 3-3 3-3-3zM162 155m0-3l3 3-3 3-3-3zM135 159m0-3l3 3-3 3-3-3zM43 163m0-3l3 3-3 3-3-3zM218 165m0-3l3 3-3 3-3-3zM102 181m0-3l3 3-3 3-3-3zM153 180m0-3l3 3-3 3-3-3zM174 179m0-3l3 3-3 3-3-3zM184 175m0-3l3 3-3 3-3-3zM195 180m0-3l3 3-3 3-3-3zM215 175m0-3l3 3-3 3-3-3zM39 188m0-3l3 3-3 3-3-3zM51 191m0-3l3 3-3 3-3-3zM139 191m0-3l3 3-3 3-3-3zM91 198m0-3l3 3-3 3-3-3zM130 205m0-3l3 3-3 3-3-3zM155 200m0-3l3 3-3 3-3-3zM199 205m0-3l3 3-3 3-3-3zM187 209m0-3l3 3-3 3-3-3zM153 212m0-3l3 3-3 3-3-3zM227 34m0-3l3 3-3 3-3-3zM266 18m0-3l3 3-3 3-3-3zM301 26m0-3l3 3-3 3-3-3zM271 31m0-3l3 3-3 3-3-3zM338 35m0-3l3 3-3 3-3-3zM370 32m0-3l3 3-3 3-3-3zM398 16m0-3l3 3-3 3-3-3zM402 23m0-3l3 3-3 3-3-3zM435 24m0-3l3 3-3 3-3-3zM428 34m0-3l3 3-3 3-3-3zM273 48m0-3l3 3-3 3-3-3zM276 48m0-3l3 3-3 3-3-3zM283 44m0-3l3 3-3 3-3-3zM345 38m0-3l3 3-3 3-3-3zM414 51m0-3l3 3-3 3-3-3zM445 52m0-3l3 3-3 3-3-3zM315 53m0-3l3 3-3 3-3-3zM315 59m0-3l3 3-3 3-3-3zM323 62m0-3l3 3-3 3-3-3zM418 58m0-3l3 3-3 3-3-3zM383 67m0-3l3 3-3 3-3-3zM260 79m0-3l3 3-3 3-3-3zM266 79m0-3l3 3-3 3-3-3zM257 91m0-3l3 3-3 3-3-3zM227 102m0-3l3 3-3 3-3-3zM232 102m0-3l3 3-3 3-3-3zM226 118m0-3l3 3-3 3-3-3zM290 130m0-3l3 3-3 3-3-3zM296 127m0-3l3 3-3 3-3-3zM300 104m0-3l3 3-3 3-3-3zM358 122m0-3l3 3-3 3-3-3zM359 113m0-3l3 3-3 3-3-3zM384 125m0-3l3 3-3 3-3-3zM338 134m0-3l3 3-3 3-3-3zM306 132m0-3l3 3-3 3-3-3zM315 136m0-3l3 3-3 3-3-3zM364 131m0-3l3 3-3 3-3-3zM390 131m0-3l3 3-3 3-3-3zM404 138m0-3l3 3-3 3-3-3zM432 146m0-3l3 3-3 3-3-3zM410 119m0-3l3 3-3 3-3-3zM247 145m0-3l3 3-3 3-3-3zM286 141m0-3l3 3-3 3-3-3zM259 163m0-3l3 3-3 3-3-3zM307 157m0-3l3 3-3 3-3-3zM324 154m0-3l3 3-3 3-3-3zM374 148m0-3l3 3-3 3-3-3zM380 156m0-3l3 3-3 3-3-3zM386 153m0-3l3 3-3 3-3-3zM421 152m0-3l3 3-3 3-3-3zM326 166m0-3l3 3-3 3-3-3zM257 174m0-3l3 3-3 3-3-3zM411 169m0-3l3 3-3 3-3-3zM435 182m0-3l3 3-3 3-3-3zM357 183m0-3l3 3-3 3-3-3zM363 187m0-3l3 3-3 3-3-3zM354 188m0-3l3 3-3 3-3-3zM278 197m0-3l3 3-3 3-3-3zM314 201m0-3l3 3-3 3-3-3zM243 203m0-3l3 3-3 3-3-3zM437 202m0-3l3 3-3 3-3-3zM413 203m0-3l3 3-3 3-3-3zM298 208m0-3l3 3-3 3-3-3zM380 216m0-3l3 3-3 3-3-3zM273 220m0-3l3 3-3 3-3-3zM368 219m0-3l3 3-3 3-3-3zM463 14m0-3l3 3-3 3-3-3zM639 18m0-3l3 3-3 3-3-3zM583 18m0-3l3 3-3 3-3-3zM467 27m0-3l3 3-3 3-3-3zM454 26m0-3l3 3-3 3-3-3zM518 35m0-3l3 3-3 3-3-3zM492 34m0-3l3 3-3 3-3-3zM636 46m0-3l3 3-3 3-3-3zM545 42m0-3l3 3-3 3-3-3zM548 40m0-3l3 3-3 3-3-3zM458 47m0-3l3 3-3 3-3-3zM447 52m0-3l3 3-3 3-3-3zM487 62m0-3l3 3-3 3-3-3zM504 62m0-3l3 3-3 3-3-3zM551 64m0-3l3 3-3 3-3-3zM561 62m0-3l3 3-3 3-3-3zM567 69m0-3l3 3-3 3-3-3zM630 77m0-3l3 3-3 3-3-3zM659 74m0-3l3 3-3 3-3-3zM549 79m0-3l3 3-3 3-3-3zM448 87m0-3l3 3-3 3-3-3zM545 94m0-3l3 3-3 3-3-3zM579 98m0-3l3 3-3 3-3-3zM480 107m0-3l3 3-3 3-3-3zM544 106m0-3l3 3-3 3-3-3zM592 110m0-3l3 3-3 3-3-3zM598 109m0-3l3 3-3 3-3-3zM628 100m0-3l3 3-3 3-3-3zM605 118m0-3l3 3-3 3-3-3zM633 112m0-3l3 3-3 3-3-3zM646 110m0-3l3 3-3 3-3-3zM458 118m0-3l3 3-3 3-3-3zM545 121m0-3l3 3-3 3-3-3zM613 124m0-3l3 3-3 3-3-3zM628 132m0-3l3 3-3 3-3-3zM665 135m0-3l3 3-3 3-3-3zM478 145m0-3l3 3-3 3-3-3zM469 148m0-3l3 3-3 3-3-3zM652 151m0-3l3 3-3 3-3-3zM630 156m0-3l3 3-3 3-3-3zM632 158m0-3l3 3-3 3-3-3zM558 157m0-3l3 3-3 3-3-3zM664 155m0-3l3 3-3 3-3-3zM465 162m0-3l3 3-3 3-3-3zM547 179m0-3l3 3-3 3-3-3zM625 182m0-3l3 3-3 3-3-3zM455 193m0-3l3 3-3 3-3-3zM609 189m0-3l3 3-3 3-3-3zM611 196m0-3l3 3-3 3-3-3zM553 196m0-3l3 3-3 3-3-3zM558 199m0-3l3 3-3 3-3-3zM506 206m0-3l3 3-3 3-3-3zM505 209m0-3l3 3-3 3-3-3zM599 202m0-3l3 3-3 3-3-3zM648 196m0-3l3 3-3 3-3-3zM661 195m0-3l3 3-3 3-3-3zM514 216m0-3l3 3-3 3-3-3zM600 214m0-3l3 3-3 3-3-3zM618 214m0-3l3 3-3 3-3-3zM644 207m0-3l3 3-3 3-3-3zM666 212m0-3l3 3-3 3-3-3zM564 218m0-3l3 3-3 3-3-3zM711 16m0-3l3 3-3 3-3-3zM689 25m0-3l3 3-3 3-3-3zM706 23m0-3l3 3-3 3-3-3zM716 34m0-3l3 3-3 3-3-3zM769 31m0-3l3 3-3 3-3-3zM776 29m0-3l3 3-3 3-3-3zM788 37m0-3l3 3-3 3-3-3zM788 41m0-3l3 3-3 3-3-3zM813 21m0-3l3 3-3 3-3-3zM859 43m0-3l3 3-3 3-3-3zM698 38m0-3l3 3-3 3-3-3zM676 57m0-3l3 3-3 3-3-3zM687 57m0-3l3 3-3 3-3-3zM733 67m0-3l3 3-3 3-3-3zM737 71m0-3l3 3-3 3-3-3zM730 74m0-3l3 3-3 3-3-3zM736 75m0-3l3 3-3 3-3-3zM818 55m0-3l3 3-3 3-3-3zM826 61m0-3l3 3-3 3-3-3zM788 68m0-3l3 3-3 3-3-3zM864 84m0-3l3 3-3 3-3-3zM867 86m0-3l3 3-3 3-3-3zM797 92m0-3l3 3-3 3-3-3zM818 96m0-3l3 3-3 3-3-3zM843 94m0-3l3 3-3 3-3-3zM721 105m0-3l3 3-3 3-3-3zM791 108m0-3l3 3-3 3-3-3zM788 124m0-3l3 3-3 3-3-3zM843 108m0-3l3 3-3 3-3-3zM689 117m0-3l3 3-3 3-3-3zM826 128m0-3l3 3-3 3-3-3zM840 126m0-3l3 3-3 3-3-3zM860 132m0-3l3 3-3 3-3-3zM843 142m0-3l3 3-3 3-3-3zM860 144m0-3l3 3-3 3-3-3zM848 151m0-3l3 3-3 3-3-3zM670 137m0-3l3 3-3 3-3-3zM706 132m0-3l3 3-3 3-3-3zM777 132m0-3l3 3-3 3-3-3zM729 152m0-3l3 3-3 3-3-3zM720 158m0-3l3 3-3 3-3-3zM735 159m0-3l3 3-3 3-3-3zM821 149m0-3l3 3-3 3-3-3zM712 176m0-3l3 3-3 3-3-3zM749 177m0-3l3 3-3 3-3-3zM696 178m0-3l3 3-3 3-3-3zM769 185m0-3l3 3-3 3-3-3zM854 186m0-3l3 3-3 3-3-3zM859 188m0-3l3 3-3 3-3-3zM793 199m0-3l3 3-3 3-3-3zM797 203m0-3l3 3-3 3-3-3zM816 209m0-3l3 3-3 3-3-3zM833 209m0-3l3 3-3 3-3-3zM759 209m0-3l3 3-3 3-3-3zM764 219m0-3l3 3-3 3-3-3zM703 219m0-3l3 3-3 3-3-3zM65 225m0-3l3 3-3 3-3-3zM59 236m0-3l3 3-3 3-3-3zM133 225m0-3l3 3-3 3-3-3zM160 226m0-3l3 3-3 3-3-3zM218 229m0-3l3 3-3 3-3-3zM80 248m0-3l3 3-3 3-3-3zM85 246m0-3l3 3-3 3-3-3zM65 250m0-3l3 3-3 3-3-3zM145 249m0-3l3 3-3 3-3-3zM177 239m0-3l3 3-3 3-3-3zM201 248m0-3l3 3-3 3-3-3zM213 252m0-3l3 3-3 3-3-3zM113 269m0-3l3 3-3 3-3-3zM118 279m0-3l3 3-3 3-3-3zM128 269m0-3l3 3-3 3-3-3zM143 286m0-3l3 3-3 3-3-3zM160 286m0-3l3 3-3 3-3-3zM193 279m0-3l3 3-3 3-3-3zM189 285m0-3l3 3-3 3-3-3zM204 289m0-3l3 3-3 3-3-3zM73 289m0-3l3 3-3 3-3-3zM73 296m0-3l3 3-3 3-3-3zM77 297m0-3l3 3-3 3-3-3zM96 296m0-3l3 3-3 3-3-3zM96 301m0-3l3 3-3 3-3-3zM217 298m0-3l3 3-3 3-3-3zM99 306m0-3l3 3-3 3-3-3zM62 313m0-3l3 3-3 3-3-3zM69 315m0-3l3 3-3 3-3-3zM99 314m0-3l3 3-3 3-3-3zM175 309m0-3l3 3-3 3-3-3zM207 307m0-3l3 3-3 3-3-3zM212 310m0-3l3 3-3 3-3-3zM176 322m0-3l3 3-3 3-3-3zM42 330m0-3l3 3-3 3-3-3zM98 339m0-3l3 3-3 3-3-3zM60 346m0-3l3 3-3 3-3-3zM79 349m0-3l3 3-3 3-3-3zM148 346m0-3l3 3-3 3-3-3zM185 335m0-3l3 3-3 3-3-3zM190 337m0-3l3 3-3 3-3-3zM173 352m0-3l3 3-3 3-3-3zM129 353m0-3l3 3-3 3-3-3zM179 366m0-3l3 3-3 3-3-3zM87 367m0-3l3 3-3 3-3-3zM114 383m0-3l3 3-3 3-3-3zM140 380m0-3l3 3-3 3-3-3zM190 381m0-3l3 3-3 3-3-3zM195 390m0-3l3 3-3 3-3-3zM103 392m0-3l3 3-3 3-3-3zM92 397m0-3l3 3-3 3-3-3zM42 401m0-3l3 3-3 3-3-3zM152 393m0-3l3 3-3 3-3-3zM203 402m0-3l3 3-3 3-3-3zM106 399m0-3l3 3-3 3-3-3zM46 407m0-3l3 3-3 3-3-3zM69 413m0-3l3 3-3 3-3-3zM75 412m0-3l3 3-3 3-3-3zM112 413m0-3l3 3-3 3-3-3zM133 412m0-3l3 3-3 3-3-3zM78 417m0-3l3 3-3 3-3-3zM90 425m0-3l3 3-3 3-3-3zM190 414m0-3l3 3-3 3-3-3zM143 424m0-3l3 3-3 3-3-3zM183 420m0-3l3 3-3 3-3-3zM153 434m0-3l3 3-3 3-3-3zM274 223m0-3l3 3-3 3-3-3zM294 225m0-3l3 3-3 3-3-3zM270 240m0-3l3 3-3 3-3-3zM267 244m0-3l3 3-3 3-3-3zM283 238m0-3l3 3-3 3-3-3zM294 242m0-3l3 3-3 3-3-3zM410 242m0-3l3 3-3 3-3-3zM428 242m0-3l3 3-3 3-3-3zM227 256m0-3l3 3-3 3-3-3zM242 259m0-3l3 3-3 3-3-3zM242 262m0-3l3 3-3 3-3-3zM314 270m0-3l3 3-3 3-3-3zM330 269m0-3l3 3-3 3-3-3zM306 273m0-3l3 3-3 3-3-3zM300 280m0-3l3 3-3 3-3-3zM394 273m0-3l3 3-3 3-3-3zM370 274m0-3l3 3-3 3-3-3zM415 279m0-3l3 3-3 3-3-3zM443 274m0-3l3 3-3 3-3-3zM243 275m0-3l3 3-3 3-3-3zM257 283m0-3l3 3-3 3-3-3zM317 286m0-3l3 3-3 3-3-3zM246 300m0-3l3 3-3 3-3-3zM315 295m0-3l3 3-3 3-3-3zM350 303m0-3l3 3-3 3-3-3zM361 295m0-3l3 3-3 3-3-3zM431 297m0-3l3 3-3 3-3-3zM439 304m0-3l3 3-3 3-3-3zM263 306m0-3l3 3-3 3-3-3zM291 313m0-3l3 3-3 3-3-3zM334 308m0-3l3 3-3 3-3-3zM364 309m0-3l3 3-3 3-3-3zM379 318m0-3l3 3-3 3-3-3zM400 310m0-3l3 3-3 3-3-3zM402 323m0-3l3 3-3 3-3-3zM260 329m0-3l3 3-3 3-3-3zM247 325m0-3l3 3-3 3-3-3zM255 340m0-3l3 3-3 3-3-3zM265 338m0-3l3 3-3 3-3-3zM427 340m0-3l3 3-3 3-3-3zM398 349m0-3l3 3-3 3-3-3zM384 353m0-3l3 3-3 3-3-3zM341 364m0-3l3 3-3 3-3-3zM334 373m0-3l3 3-3 3-3-3zM361 369m0-3l3 3-3 3-3-3zM340 375m0-3l3 3-3 3-3-3zM259 373m0-3l3 3-3 3-3-3zM284 372m0-3l3 3-3 3-3-3zM411 378m0-3l3 3-3 3-3-3zM411 394m0-3l3 3-3 3-3-3zM434 381m0-3l3 3-3 3-3-3zM326 384m0-3l3 3-3 3-3-3zM256 396m0-3l3 3-3 3-3-3zM249 400m0-3l3 3-3 3-3-3zM313 402m0-3l3 3-3 3-3-3zM273 403m0-3l3 3-3 3-3-3zM260 409m0-3l3 3-3 3-3-3zM342 406m0-3l3 3-3 3-3-3zM390 409m0-3l3 3-3 3-3-3zM398 406m0-3l3 3-3 3-3-3zM410 412m0-3l3 3-3 3-3-3zM243 417m0-3l3 3-3 3-3-3zM239 421m0-3l3 3-3 3-3-3zM344 426m0-3l3 3-3 3-3-3zM327 429m0-3l3 3-3 3-3-3zM300 433m0-3l3 3-3 3-3-3zM428 438m0-3l3 3-3 3-3-3zM442 439m0-3l3 3-3 3-3-3zM224 439m0-3l3 3-3 3-3-3zM485 234m0-3l3 3-3 3-3-3zM461 245m0-3l3 3-3 3-3-3zM588 246m0-3l3 3-3 3-3-3zM593 242m0-3l3 3-3 3-3-3zM591 251m0-3l3 3-3 3-3-3zM593 259m0-3l3 3-3 3-3-3zM595 262m0-3l3 3-3 3-3-3zM562 271m0-3l3 3-3 3-3-3zM661 240m0-3l3 3-3 3-3-3zM638 254m0-3l3 3-3 3-3-3zM649 262m0-3l3 3-3 3-3-3zM659 272m0-3l3 3-3 3-3-3zM659 275m0-3l3 3-3 3-3-3zM667 279m0-3l3 3-3 3-3-3zM518 255m0-3l3 3-3 3-3-3zM515 259m0-3l3 3-3 3-3-3zM490 265m0-3l3 3-3 3-3-3zM539 283m0-3l3 3-3 3-3-3zM495 281m0-3l3 3-3 3-3-3zM504 298m0-3l3 3-3 3-3-3zM544 293m0-3l3 3-3 3-3-3zM557 293m0-3l3 3-3 3-3-3zM645 285m0-3l3 3-3 3-3-3zM631 297m0-3l3 3-3 3-3-3zM630 314m0-3l3 3-3 3-3-3zM645 319m0-3l3 3-3 3-3-3zM474 309m0-3l3 3-3 3-3-3zM505 310m0-3l3 3-3 3-3-3zM585 310m0-3l3 3-3 3-3-3zM485 313m0-3l3 3-3 3-3-3zM504 322m0-3l3 3-3 3-3-3zM475 316m0-3l3 3-3 3-3-3zM545 323m0-3l3 3-3 3-3-3zM588 315m0-3l3 3-3 3-3-3zM624 326m0-3l3 3-3 3-3-3zM450 335m0-3l3 3-3 3-3-3zM475 339m0-3l3 3-3 3-3-3zM537 333m0-3l3 3-3 3-3-3zM602 340m0-3l3 3-3 3-3-3zM604 338m0-3l3 3-3 3-3-3zM583 349m0-3l3 3-3 3-3-3zM600 342m0-3l3 3-3 3-3-3zM484 352m0-3l3 3-3 3-3-3zM490 360m0-3l3 3-3 3-3-3zM482 362m0-3l3 3-3 3-3-3zM510 360m0-3l3 3-3 3-3-3zM453 364m0-3l3 3-3 3-3-3zM530 363m0-3l3 3-3 3-3-3zM577 357m0-3l3 3-3 3-3-3zM556 364m0-3l3 3-3 3-3-3zM562 367m0-3l3 3-3 3-3-3zM564 369m0-3l3 3-3 3-3-3zM638 376m0-3l3 3-3 3-3-3zM493 387m0-3l3 3-3 3-3-3zM497 393m0-3l3 3-3 3-3-3zM552 389m0-3l3 3-3 3-3-3zM619 393m0-3l3 3-3 3-3-3zM591 400m0-3l3 3-3 3-3-3zM568 407m0-3l3 3-3 3-3-3zM575 410m0-3l3 3-3 3-3-3zM633 400m0-3l3 3-3 3-3-3zM658 400m0-3l3 3-3 3-3-3zM504 407m0-3l3 3-3 3-3-3zM517 411m0-3l3 3-3 3-3-3zM454 417m0-3l3 3-3 3-3-3zM507 421m0-3l3 3-3 3-3-3zM555 420m0-3l3 3-3 3-3-3zM491 424m0-3l3 3-3 3-3-3zM520 436m0-3l3 3-3 3-3-3zM539 436m0-3l3 3-3 3-3-3zM625 432m0-3l3 3-3 3-3-3zM450 439m0-3l3 3-3 3-3-3zM505 442m0-3l3 3-3 3-3-3zM719 233m0-3l3 3-3 3-3-3zM690 238m0-3l3 3-3 3-3-3zM755 233m0-3l3 3-3 3-3-3zM795 239m0-3l3 3-3 3-3-3zM849 253m0-3l3 3-3 3-3-3zM857 256m0-3l3 3-3 3-3-3zM769 263m0-3l3 3-3 3-3-3zM862 262m0-3l3 3-3 3-3-3zM743 274m0-3l3 3-3 3-3-3zM748 271m0-3l3 3-3 3-3-3zM752 269m0-3l3 3-3 3-3-3zM752 278m0-3l3 3-3 3-3-3zM790 269m0-3l3 3-3 3-3-3zM705 280m0-3l3 3-3 3-3-3zM675 289m0-3l3 3-3 3-3-3zM702 293m0-3l3 3-3 3-3-3zM776 293m0-3l3 3-3 3-3-3zM864 284m0-3l3 3-3 3-3-3zM689 308m0-3l3 3-3 3-3-3zM754 310m0-3l3 3-3 3-3-3zM672 313m0-3l3 3-3 3-3-3zM851 309m0-3l3 3-3 3-3-3zM853 315m0-3l3 3-3 3-3-3zM866 326m0-3l3 3-3 3-3-3zM796 315m0-3l3 3-3 3-3-3zM727 339m0-3l3 3-3 3-3-3zM809 338m0-3l3 3-3 3-3-3zM776 344m0-3l3 3-3 3-3-3zM734 369m0-3l3 3-3 3-3-3zM720 376m0-3l3 3-3 3-3-3zM746 373m0-3l3 3-3 3-3-3zM802 377m0-3l3 3-3 3-3-3zM688 398m0-3l3 3-3 3-3-3zM720 404m0-3l3 3-3 3-3-3zM807 404m0-3l3 3-3 3-3-3zM852 387m0-3l3 3-3 3-3-3zM841 413m0-3l3 3-3 3-3-3zM867 433m0-3l3 3-3 3-3-3zM703 441m0-3l3 3-3 3-3-3zM763 438m0-3l3 3-3 3-3-3zM819 442m0-3l3 3-3 3-3-3zM48 446m0-3l3 3-3 3-3-3zM78 449m0-3l3 3-3 3-3-3zM45 463m0-3l3 3-3 3-3-3zM98 454m0-3l3 3-3 3-3-3zM170 453m0-3l3 3-3 3-3-3zM209 449m0-3l3 3-3 3-3-3zM100 466m0-3l3 3-3 3-3-3zM56 474m0-3l3 3-3 3-3-3zM82 474m0-3l3 3-3 3-3-3zM106 483m0-3l3 3-3 3-3-3zM179 478m0-3l3 3-3 3-3-3zM211 473m0-3l3 3-3 3-3-3zM169 484m0-3l3 3-3 3-3-3zM85 496m0-3l3 3-3 3-3-3zM86 507m0-3l3 3-3 3-3-3zM125 513m0-3l3 3-3 3-3-3zM143 504m0-3l3 3-3 3-3-3zM220 511m0-3l3 3-3 3-3-3zM221 518m0-3l3 3-3 3-3-3zM38 530m0-3l3 3-3 3-3-3zM153 520m0-3l3 3-3 3-3-3zM73 537m0-3l3 3-3 3-3-3zM67 551m0-3l3 3-3 3-3-3zM91 548m0-3l3 3-3 3-3-3zM58 556m0-3l3 3-3 3-3-3zM141 558m0-3l3 3-3 3-3-3zM79 574m0-3l3 3-3 3-3-3zM62 580m0-3l3 3-3 3-3-3zM64 585m0-3l3 3-3 3-3-3zM42 583m0-3l3 3-3 3-3-3zM100 577m0-3l3 3-3 3-3-3zM192 579m0-3l3 3-3 3-3-3zM172 581m0-3l3 3-3 3-3-3zM213 587m0-3l3 3-3 3-3-3zM136 594m0-3l3 3-3 3-3-3zM50 602m0-3l3 3-3 3-3-3zM88 595m0-3l3 3-3 3-3-3zM115 602m0-3l3 3-3 3-3-3zM62 612m0-3l3 3-3 3-3-3zM206 601m0-3l3 3-3 3-3-3zM149 613m0-3l3 3-3 3-3-3zM63 618m0-3l3 3-3 3-3-3zM189 629m0-3l3 3-3 3-3-3zM212 623m0-3l3 3-3 3-3-3zM91 629m0-3l3 3-3 3-3-3zM162 643m0-3l3 3-3 3-3-3zM165 642m0-3l3 3-3 3-3-3zM61 645m0-3l3 3-3 3-3-3zM155 649m0-3l3 3-3 3-3-3zM50 651m0-3l3 3-3 3-3-3zM300 455m0-3l3 3-3 3-3-3zM374 444m0-3l3 3-3 3-3-3zM405 457m0-3l3 3-3 3-3-3zM405 446m0-3l3 3-3 3-3-3zM468 456m0-3l3 3-3 3-3-3zM543 445m0-3l3 3-3 3-3-3zM584 458m0-3l3 3-3 3-3-3zM586 444m0-3l3 3-3 3-3-3zM626 457m0-3l3 3-3 3-3-3zM736 447m0-3l3 3-3 3-3-3zM776 459m0-3l3 3-3 3-3-3zM790 446m0-3l3 3-3 3-3-3zM846 457m0-3l3 3-3 3-3-3zM263 457m0-3l3 3-3 3-3-3zM301 468m0-3l3 3-3 3-3-3zM318 458m0-3l3 3-3 3-3-3zM428 469m0-3l3 3-3 3-3-3zM491 456m0-3l3 3-3 3-3-3zM531 467m0-3l3 3-3 3-3-3zM541 462m0-3l3 3-3 3-3-3zM579 465m0-3l3 3-3 3-3-3zM644 460m0-3l3 3-3 3-3-3zM682 463m0-3l3 3-3 3-3-3zM690 461m0-3l3 3-3 3-3-3zM736 466m0-3l3 3-3 3-3-3zM807 462m0-3l3 3-3 3-3-3zM889 468m0-3l3 3-3 3-3-3zM250 472m0-3l3 3-3 3-3-3zM291 478m0-3l3 3-3 3-3-3zM367 475m0-3l3 3-3 3-3-3zM404 479m0-3l3 3-3 3-3-3zM410 474m0-3l3 3-3 3-3-3zM482 481m0-3l3 3-3 3-3-3zM552 470m0-3l3 3-3 3-3-3zM591 484m0-3l3 3-3 3-3-3zM597 471m0-3l3 3-3 3-3-3zM641 482m0-3l3 3-3 3-3-3zM708 470m0-3l3 3-3 3-3-3zM747 483m0-3l3 3-3 3-3-3zM748 472m0-3l3 3-3 3-3-3zM791 478m0-3l3 3-3 3-3-3zM870 471m0-3l3 3-3 3-3-3zM229 494m0-3l3 3-3 3-3-3zM300 488m0-3l3 3-3 3-3-3zM337 492m0-3l3 3-3 3-3-3zM393 485m0-3l3 3-3 3-3-3zM431 496m0-3l3 3-3 3-3-3zM500 484m0-3l3 3-3 3-3-3zM537 497m0-3l3 3-3 3-3-3zM549 486m0-3l3 3-3 3-3-3zM586 498m0-3l3 3-3 3-3-3zM654 485m0-3l3 3-3 3-3-3zM692 496m0-3l3 3-3 3-3-3zM701 484m0-3l3 3-3 3-3-3zM742 496m0-3l3 3-3 3-3-3zM812 486m0-3l3 3-3 3-3-3zM885 493m0-3l3 3-3 3-3-3zM247 500m0-3l3 3-3 3-3-3zM291 511m0-3l3 3-3 3-3-3zM362 498m0-3l3 3-3 3-3-3zM400 510m0-3l3 3-3 3-3-3zM411 499m0-3l3 3-3 3-3-3zM491 508m0-3l3 3-3 3-3-3zM562 497m0-3l3 3-3 3-3-3zM603 511m0-3l3 3-3 3-3-3zM611 499m0-3l3 3-3 3-3-3zM649 510m0-3l3 3-3 3-3-3zM707 505m0-3l3 3-3 3-3-3zM752 506m0-3l3 3-3 3-3-3zM761 501m0-3l3 3-3 3-3-3zM841 507m0-3l3 3-3 3-3-3zM872 503m0-3l3 3-3 3-3-3zM259 514m0-3l3 3-3 3-3-3zM297 525m0-3l3 3-3 3-3-3zM306 512m0-3l3 3-3 3-3-3zM383 521m0-3l3 3-3 3-3-3zM452 518m0-3l3 3-3 3-3-3zM492 522m0-3l3 3-3 3-3-3zM501 511m0-3l3 3-3 3-3-3zM541 525m0-3l3 3-3 3-3-3zM612 513m0-3l3 3-3 3-3-3zM652 524m0-3l3 3-3 3-3-3zM677 516m0-3l3 3-3 3-3-3zM709 520m0-3l3 3-3 3-3-3zM780 518m0-3l3 3-3 3-3-3zM822 522m0-3l3 3-3 3-3-3zM862 517m0-3l3 3-3 3-3-3zM249 536m0-3l3 3-3 3-3-3zM322 531m0-3l3 3-3 3-3-3zM362 534m0-3l3 3-3 3-3-3zM371 530m0-3l3 3-3 3-3-3zM449 540m0-3l3 3-3 3-3-3zM522 528m0-3l3 3-3 3-3-3zM562 533m0-3l3 3-3 3-3-3zM571 531m0-3l3 3-3 3-3-3zM613 535m0-3l3 3-3 3-3-3zM682 530m0-3l3 3-3 3-3-3zM722 534m0-3l3 3-3 3-3-3zM742 529m0-3l3 3-3 3-3-3zM781 540m0-3l3 3-3 3-3-3zM887 530m0-3l3 3-3 3-3-3zM262 550m0-3l3 3-3 3-3-3zM271 545m0-3l3 3-3 3-3-3zM309 548m0-3l3 3-3 3-3-3zM382 544m0-3l3 3-3 3-3-3zM424 549m0-3l3 3-3 3-3-3zM471 542m0-3l3 3-3 3-3-3zM513 547m0-3l3 3-3 3-3-3zM584 545m0-3l3 3-3 3-3-3zM626 549m0-3l3 3-3 3-3-3zM635 544m0-3l3 3-3 3-3-3zM677 548m0-3l3 3-3 3-3-3zM744 545m0-3l3 3-3 3-3-3zM774 547m0-3l3 3-3 3-3-3zM835 547m0-3l3 3-3 3-3-3zM871 549m0-3l3 3-3 3-3-3zM282 556m0-3l3 3-3 3-3-3zM320 567m0-3l3 3-3 3-3-3zM331 554m0-3l3 3-3 3-3-3zM411 563m0-3l3 3-3 3-3-3zM484 560m0-3l3 3-3 3-3-3zM524 564m0-3l3 3-3 3-3-3zM537 553m0-3l3 3-3 3-3-3zM579 567m0-3l3 3-3 3-3-3zM652 555m0-3l3 3-3 3-3-3zM692 566m0-3l3 3-3 3-3-3zM701 554m0-3l3 3-3 3-3-3zM739 567m0-3l3 3-3 3-3-3zM812 556m0-3l3 3-3 3-3-3zM859 562m0-3l3 3-3 3-3-3zM233 572m0-3l3 3-3 3-3-3zM273 577m0-3l3 3-3 3-3-3zM344 574m0-3l3 3-3 3-3-3zM384 578m0-3l3 3-3 3-3-3zM391 573m0-3l3 3-3 3-3-3zM431 576m0-3l3 3-3 3-3-3zM502 572m0-3l3 3-3 3-3-3zM584 578m0-3l3 3-3 3-3-3zM595 574m0-3l3 3-3 3-3-3zM637 577m0-3l3 3-3 3-3-3zM708 573m0-3l3 3-3 3-3-3zM748 578m0-3l3 3-3 3-3-3zM757 575m0-3l3 3-3 3-3-3zM839 576m0-3l3 3-3 3-3-3zM872 573m0-3l3 3-3 3-3-3zM282 586m0-3l3 3-3 3-3-3zM322 591m0-3l3 3-3 3-3-3zM333 588m0-3l3 3-3 3-3-3zM373 592m0-3l3 3-3 3-3-3zM444 587m0-3l3 3-3 3-3-3zM526 594m0-3l3 3-3 3-3-3zM535 589m0-3l3 3-3 3-3-3zM575 592m0-3l3 3-3 3-3-3zM648 587m0-3l3 3-3 3-3-3zM688 591m0-3l3 3-3 3-3-3zM697 588m0-3l3 3-3 3-3-3zM737 592m0-3l3 3-3 3-3-3zM810 587m0-3l3 3-3 3-3-3zM859 596m0-3l3 3-3 3-3-3zM229 600m0-3l3 3-3 3-3-3zM269 611m0-3l3 3-3 3-3-3zM342 598m0-3l3 3-3 3-3-3zM424 607m0-3l3 3-3 3-3-3zM433 604m0-3l3 3-3 3-3-3zM473 608m0-3l3 3-3 3-3-3zM544 597m0-3l3 3-3 3-3-3zM586 611m0-3l3 3-3 3-3-3zM597 599m0-3l3 3-3 3-3-3zM637 610m0-3l3 3-3 3-3-3zM708 598m0-3l3 3-3 3-3-3zM748 611m0-3l3 3-3 3-3-3zM757 600m0-3l3 3-3 3-3-3zM797 605m0-3l3 3-3 3-3-3zM870 599m0-3l3 3-3 3-3-3zM280 615m0-3l3 3-3 3-3-3zM322 620m0-3l3 3-3 3-3-3zM331 617m0-3l3 3-3 3-3-3zM373 621m0-3l3 3-3 3-3-3zM444 616m0-3l3 3-3 3-3-3zM484 619m0-3l3 3-3 3-3-3zM535 618m0-3l3 3-3 3-3-3zM575 621m0-3l3 3-3 3-3-3zM646 616m0-3l3 3-3 3-3-3zM686 620m0-3l3 3-3 3-3-3zM695 617m0-3l3 3-3 3-3-3zM735 621m0-3l3 3-3 3-3-3zM808 616m0-3l3 3-3 3-3-3zM857 623m0-3l3 3-3 3-3-3zM233 630m0-3l3 3-3 3-3-3zM271 635m0-3l3 3-3 3-3-3zM342 632m0-3l3 3-3 3-3-3zM384 636m0-3l3 3-3 3-3-3zM393 631m0-3l3 3-3 3-3-3zM433 634m0-3l3 3-3 3-3-3zM504 630m0-3l3 3-3 3-3-3zM546 641m0-3l3 3-3 3-3-3zM597 631m0-3l3 3-3 3-3-3zM637 635m0-3l3 3-3 3-3-3zM708 632m0-3l3 3-3 3-3-3zM750 636m0-3l3 3-3 3-3-3zM759 631m0-3l3 3-3 3-3-3zM841 640m0-3l3 3-3 3-3-3zM872 628m0-3l3 3-3 3-3-3zM282 645m0-3l3 3-3 3-3-3zM324 650m0-3l3 3-3 3-3-3zM335 647m0-3l3 3-3 3-3-3zM375 651m0-3l3 3-3 3-3-3zM488 641m0-3l3 3-3 3-3-3zM530 653m0-3l3 3-3 3-3-3zM581 651m0-3l3 3-3 3-3-3zM654 646m0-3l3 3-3 3-3-3zM694 650m0-3l3 3-3 3-3-3zM703 647m0-3l3 3-3 3-3-3zM743 651m0-3l3 3-3 3-3-3zM863 645m0-3l3 3-3 3-3-3zM285 656m0-3l3 3-3 3-3-3zM412 655m0-3l3 3-3 3-3-3zM453 656m0-3l3 3-3 3-3-3zM570 656m0-3l3 3-3 3-3-3zM641 656m0-3l3 3-3 3-3-3zM776 654m0-3l3 3-3 3-3-3z"/>
</g>
</svg>
